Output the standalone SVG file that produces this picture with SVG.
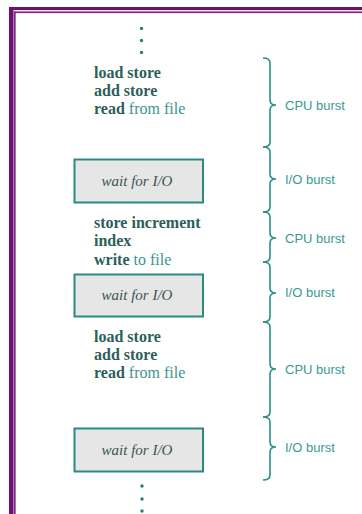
<svg xmlns="http://www.w3.org/2000/svg" width="362" height="514" viewBox="0 0 362 514">
<style>
.code{font-family:"Liberation Serif","Times New Roman",serif;font-size:16px;fill:#2d5f5a}
.b{font-weight:bold}
.r{fill:#3c958d;font-weight:normal}
.box{fill:#e6e6e6;stroke:#2b8a84;stroke-width:2}
.wait{font-family:"Liberation Serif","Times New Roman",serif;font-style:italic;font-size:15px;fill:#3d5452;text-anchor:middle}
.lbl{font-family:"Liberation Sans",Arial,sans-serif;font-size:13px;fill:#3a9a93}
.brace{fill:none;stroke:#2b8f88;stroke-width:1.6}
.dot{fill:#2b7c77}
</style>
<rect width="362" height="514" fill="#ffffff"/>
<g id="frame">
<rect x="9" y="7" width="353" height="507" fill="#efe6ef"/>
<rect x="9" y="7" width="353" height="3" fill="#6e0f72"/>
<rect x="9" y="7" width="4.5" height="507" fill="#6e0f72"/>
<rect x="14" y="11.5" width="348" height="1.8" fill="#7a2a7e"/>
<rect x="14" y="11.5" width="1.8" height="502.5" fill="#7a2a7e"/>
<rect x="15.8" y="13.3" width="346.2" height="500.7" fill="#ffffff"/>
</g>
<g id="dots-top">
<circle class="dot" cx="141.5" cy="28.5" r="1.7"/>
<circle class="dot" cx="141.5" cy="40.5" r="1.7"/>
<circle class="dot" cx="141.5" cy="52.5" r="1.7"/>
</g>
<g id="cpu1">
<text class="code b" x="94" y="78">load store</text>
<text class="code b" x="94" y="96">add store</text>
<text class="code b" x="94" y="114">read <tspan class="r">from file</tspan></text>
</g>
<g id="io1">
<rect class="box" x="74.5" y="159.5" width="128.5" height="43"/>
<text class="wait" x="137" y="186">wait for I/O</text>
</g>
<g id="cpu2">
<text class="code b" x="94" y="228">store increment</text>
<text class="code b" x="94" y="246">index</text>
<text class="code b" x="94" y="265">write <tspan class="r">to file</tspan></text>
</g>
<g id="io2">
<rect class="box" x="74.5" y="274.5" width="128.5" height="42"/>
<text class="wait" x="137" y="300">wait for I/O</text>
</g>
<g id="cpu3">
<text class="code b" x="94" y="342">load store</text>
<text class="code b" x="94" y="360">add store</text>
<text class="code b" x="94" y="378">read <tspan class="r">from file</tspan></text>
</g>
<g id="io3">
<rect class="box" x="74.5" y="428.5" width="128.5" height="43"/>
<text class="wait" x="137" y="455">wait for I/O</text>
</g>
<g id="dots-bottom">
<circle class="dot" cx="142" cy="486" r="1.7"/>
<circle class="dot" cx="142" cy="499" r="1.7"/>
<circle class="dot" cx="142" cy="511" r="1.7"/>
</g>
<g id="connectors">
<path class="brace" d="M263,58 Q270,58 270,63 L270,100 Q270,105 276,105 Q270,105 270,110 L270,142 Q270,147 263,147"/>
<path class="brace" d="M263,147 Q270,147 270,152 L270,174 Q270,179 276,179 Q270,179 270,184 L270,207 Q270,212 263,212"/>
<path class="brace" d="M263,212 Q270,212 270,217 L270,233 Q270,238 276,238 Q270,238 270,243 L270,257 Q270,262 263,262"/>
<path class="brace" d="M263,262 Q270,262 270,267 L270,288 Q270,293 276,293 Q270,293 270,298 L270,317 Q270,322 263,322"/>
<path class="brace" d="M263,322 Q270,322 270,327 L270,364 Q270,369 276,369 Q270,369 270,374 L270,412 Q270,417 263,417"/>
<path class="brace" d="M263,417 Q270,417 270,422 L270,442 Q270,447 276,447 Q270,447 270,452 L270,475 Q270,480 263,480"/>
</g>
<g id="labels">
<text class="lbl" x="285" y="110">CPU burst</text>
<text class="lbl" x="285" y="184">I/O burst</text>
<text class="lbl" x="285" y="243">CPU burst</text>
<text class="lbl" x="285" y="297">I/O burst</text>
<text class="lbl" x="285" y="374">CPU burst</text>
<text class="lbl" x="285" y="452">I/O burst</text>
</g>
</svg>
